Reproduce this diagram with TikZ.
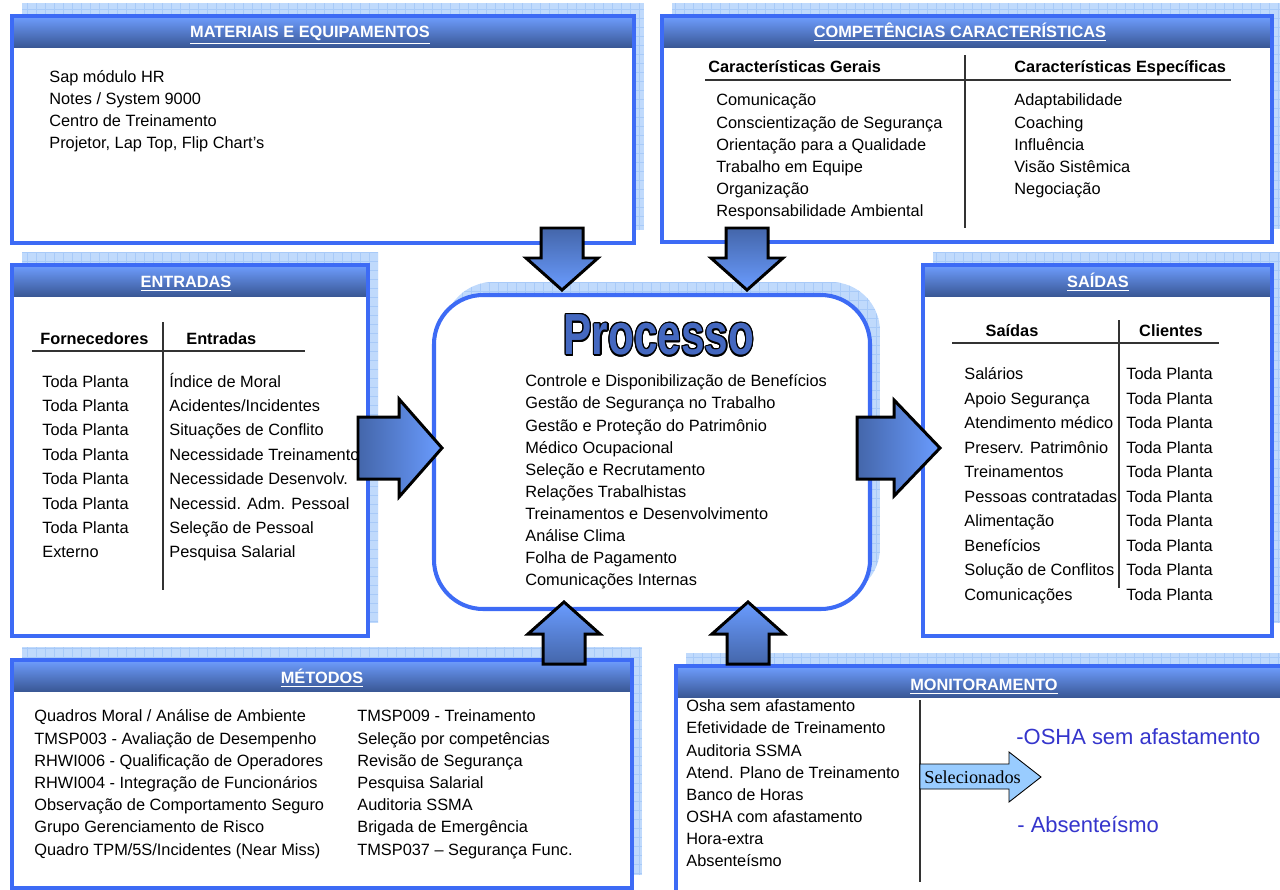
\documentclass[tikz,border=0pt]{standalone}
\usepackage{fontspec}
\setmainfont{Liberation Sans}
\newfontfamily\selfont{Liberation Serif}
\usepackage{contour}
\usepackage{tikz}
\usetikzlibrary{calc,positioning}

\definecolor{boxblue}{HTML}{3D6BF5}
\definecolor{hdrtop}{HTML}{6F9EFF}
\definecolor{hdrbot}{HTML}{3A5896}
\definecolor{shadowblue}{HTML}{C0DAFC}
\definecolor{gridblue}{HTML}{A8CAF8}
\definecolor{arrdark}{HTML}{4466AA}
\definecolor{arrlight}{HTML}{6A9CFF}
\definecolor{procblue}{HTML}{4468C0}
\definecolor{selblue}{HTML}{99CCFF}
\definecolor{montext}{HTML}{3535CC}

\tikzset{
  panel/.style={draw=boxblue, line width=2pt},
  header/.style={top color=hdrtop, bottom color=hdrbot, draw=none},
  title/.style={text=white, inner sep=0pt, text height=7.5pt, text depth=1pt,
                font=\bfseries\fontsize{9.3}{11}\selectfont},
  item/.style={anchor=west, inner sep=0pt, text height=7.5pt, text depth=1pt,
               font=\fontsize{9.3}{11}\selectfont},
  colhead/.style={item, font=\bfseries\fontsize{9.3}{11}\selectfont},
  bigitem/.style={anchor=west, inner sep=0pt, text height=10pt, text depth=1pt,
                  text=montext, font=\fontsize{12.5}{14}\selectfont},
  rule/.style={draw=black!80, line width=0.8pt},
  gridline/.style={draw=gridblue, line width=0.3pt},
  blockarrow/.style={draw=black, line width=1.7pt, line join=miter},
}

% light blue squared shadow behind a panel
\newcommand\gridshadow[4]{%
  \fill[shadowblue] (#1,#2) rectangle (#3,#4);
  \begin{scope}
    \clip (#1,#2) rectangle (#3,#4);
    \foreach \gx in {0,9,...,1287} \draw[gridline] (\gx,#2) -- (\gx,#4);
    \foreach \gy in {0,9,...,891} \draw[gridline] (#1,\gy) -- (#3,\gy);
  \end{scope}}

\contourlength{0.9pt}

\begin{document}
\begin{tikzpicture}[x=0.02cm, y=-0.02cm]
\useasboundingbox (0,0) rectangle (1280,889);
\clip (0,0) rectangle (1280,889);

% shadows
\gridshadow{22}{3}{644}{230}
\gridshadow{672}{3}{1282}{229}
\gridshadow{22}{252}{378}{623}
\gridshadow{933}{252}{1282}{623}
\gridshadow{22}{647}{642}{875}
\gridshadow{686}{653}{1290}{882}
\begin{scope}
  \clip[rounded corners=28pt] (444,282) rectangle (880,597);
  \fill[shadowblue] (444,282) rectangle (880,597);
  \foreach \gx in {444,453,...,880} \draw[gridline] (\gx,282) -- (\gx,597);
  \foreach \gy in {282,291,...,597} \draw[gridline] (444,\gy) -- (880,\gy);
\end{scope}

% panels
\foreach \x/\y/\X/\Y in {12/16/634/243, 662/16/1272/242, 12/265/368/636,
                         923/265/1272/636, 12/660/632/888, 676/666/1295/900}{
  \fill[white] (\x,\y) rectangle (\X,\Y);
  \fill[header] (\x,\y) rectangle (\X,\y+31);
  \draw[panel] (\x,\y) rectangle (\X,\Y);
}
\draw[panel, line width=2.3pt, fill=white, rounded corners=28pt] (434,295) rectangle (870,609);

% titles
\node[title] (mat) at (310,32) {\underline{MATERIAIS E EQUIPAMENTOS}};
\node[title] (comp) at (960,32) {\underline{COMPETÊNCIAS CARACTERÍSTICAS}};
\node[title] (ent) at (186,282) {\underline{ENTRADAS}};
\node[title] (sai) at (1098,282) {\underline{SAÍDAS}};
\node[title] (met) at (322,678) {\underline{MÉTODOS}};
\node[title] (mon) at (984,685) {\underline{MONITORAMENTO}};

% materiais
\foreach \t [count=\i] in {Sap módulo HR, Notes / System 9000, Centro de Treinamento,
                           {Projetor, Lap Top, Flip Chart’s}}
  \node[item] (mat\i) at (49,55+22*\i) {\t};

% competencias
\node[colhead] (gerais) at (708,67) {Características Gerais};
\node[colhead] (especif) at (1014,67) {Características Específicas};
\draw[rule] (705,80) -- (1231,80);
\draw[rule] (965,55) -- (965,228);
\foreach \t [count=\i] in {Comunicação, Conscientização de Segurança, Orientação para a Qualidade,
                           Trabalho em Equipe, Organização, Responsabilidade Ambiental}
  \node[item] (ger\i) at (716,78+22.2*\i) {\t};
\foreach \t [count=\i] in {Adaptabilidade, Coaching, Influência, Visão Sistêmica, Negociação}
  \node[item] (esp\i) at (1014,78+22.2*\i) {\t};

% entradas
\node[colhead] (forn) at (40,339) {Fornecedores};
\node[colhead] (entr) at (186,339) {Entradas};
\draw[rule] (32,351) -- (305,351);
\draw[rule] (163,322) -- (163,590);
\foreach \t [count=\i] in {Toda Planta, Toda Planta, Toda Planta, Toda Planta,
                           Toda Planta, Toda Planta, Toda Planta, Externo}
  \node[item] (fo\i) at (42,357+24.4*\i) {\t};
\foreach \t [count=\i] in {Índice de Moral, Acidentes/Incidentes, Situações de Conflito,
                           Necessidade Treinamento, Necessidade Desenvolv.,
                           Necessid. Adm. Pessoal, Seleção de Pessoal, Pesquisa Salarial}
  \node[item] (en\i) at (169,357+24.4*\i) {\t};

% saidas
\node[colhead, anchor=center] (said) at (1012,331) {Saídas};
\node[colhead, anchor=center] (cli) at (1171,331) {Clientes};
\draw[rule] (952,343) -- (1219,343);
\draw[rule] (1119,320) -- (1119,588);
\foreach \t [count=\i] in {Salários, Apoio Segurança, Atendimento médico, Preserv. Patrimônio,
                           Treinamentos, Pessoas contratadas, Alimentação, Benefícios,
                           Solução de Conflitos, Comunicações}{
  \node[item] (sa\i) at (964,349.5+24.5*\i) {\t};
  \node[item] (cl\i) at (1126,349.5+24.5*\i) {Toda Planta};
}

% processo
\node (proc) at (659,336) {\fontsize{33}{33}\selectfont\bfseries
  \scalebox{0.73}[1]{\contour{black}{\textcolor{procblue}{Processo}}}};
\foreach \t [count=\i] in {Controle e Disponibilização de Benefícios, Gestão de Segurança no Trabalho,
                           Gestão e Proteção do Patrimônio, Médico Ocupacional,
                           Seleção e Recrutamento, Relações Trabalhistas,
                           Treinamentos e Desenvolvimento, Análise Clima,
                           Folha de Pagamento, Comunicações Internas}
  \node[item] (pr\i) at (525,359+22.1*\i) {\t};

% metodos
\foreach \t [count=\i] in {Quadros Moral / Análise de Ambiente, TMSP003 - Avaliação de Desempenho,
                           RHWI006 - Qualificação de Operadores, RHWI004 - Integração de Funcionários,
                           Observação de Comportamento Seguro, Grupo Gerenciamento de Risco,
                           Quadro TPM/5S/Incidentes (Near Miss)}
  \node[item] (mel\i) at (34,694+22.2*\i) {\t};
\foreach \t [count=\i] in {TMSP009 - Treinamento, Seleção por competências, Revisão de Segurança,
                           Pesquisa Salarial, Auditoria SSMA, Brigada de Emergência,
                           TMSP037 – Segurança Func.}
  \node[item] (mer\i) at (357,694+22.2*\i) {\t};

% monitoramento
\foreach \t [count=\i] in {Osha sem afastamento, Efetividade de Treinamento, Auditoria SSMA,
                           Atend. Plano de Treinamento, Banco de Horas, OSHA com afastamento,
                           Hora-extra, Absenteísmo}
  \node[item] (mo\i) at (686,684+22.1*\i) {\t};
\draw[rule, line width=0.6pt] (920,700) -- (920,882);
\draw[fill=selblue, draw=black, line width=0.5pt]
  (920,764) -- (1009,764) -- (1009,752) -- (1041,777) -- (1009,802) -- (1009,789) -- (920,789) -- cycle;
\node[anchor=west, inner sep=0pt, font=\selfont\fontsize{10.4}{12}\selectfont] (sel) at (924,777) {Selecionados};
\node[bigitem] (osha) at (1016,737) {-OSHA sem afastamento};
\node[bigitem] (abs) at (1017,825) {- Absenteísmo};

% block arrows into and out of the process
\draw[blockarrow, top color=arrdark, bottom color=arrlight]
  (541,228) -- (583,228) -- (583,258) -- (598,258) -- (562,290) -- (526,258) -- (541,258) -- cycle;
\draw[blockarrow, top color=arrdark, bottom color=arrlight]
  (726,228) -- (768,228) -- (768,258) -- (783,258) -- (747,290) -- (711,258) -- (726,258) -- cycle;
\draw[blockarrow, top color=arrlight, bottom color=arrdark]
  (543,664) -- (585,664) -- (585,634) -- (600,634) -- (564,602) -- (528,634) -- (543,634) -- cycle;
\draw[blockarrow, top color=arrlight, bottom color=arrdark]
  (727,664) -- (769,664) -- (769,634) -- (784,634) -- (748,602) -- (712,634) -- (727,634) -- cycle;
\draw[blockarrow, left color=arrdark, right color=arrlight]
  (358,417) -- (399,417) -- (399,399) -- (442,448) -- (399,497) -- (399,479) -- (358,479) -- cycle;
\draw[blockarrow, left color=arrdark, right color=arrlight]
  (857,417) -- (894,417) -- (894,400) -- (940,448) -- (894,496) -- (894,479) -- (857,479) -- cycle;
\end{tikzpicture}
\end{document}
